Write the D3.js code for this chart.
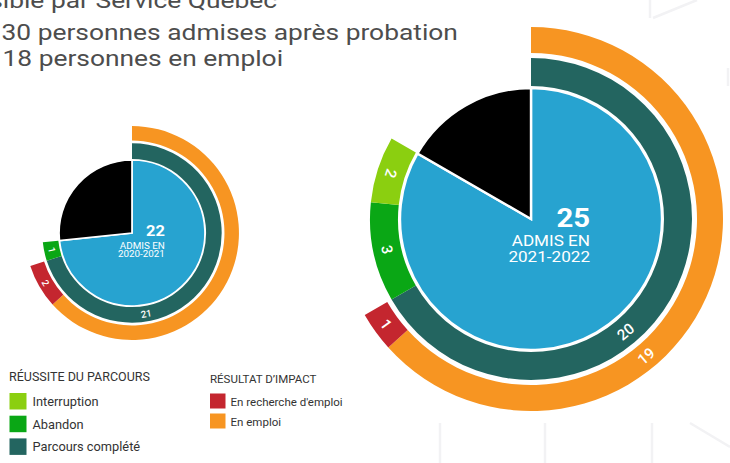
<!DOCTYPE html>
<html><head><meta charset="utf-8">
<script src="https://cdn.jsdelivr.net/npm/d3@7"></script>
<style>
html,body{margin:0;padding:0;background:#fff;overflow:hidden;}
svg{display:block;font-family:Roboto, "Noto Sans", sans-serif;}
</style></head>
<body>
<svg id="chart" width="730" height="463"></svg>
<script>
// ---- data ----
const years = ["2020-2021", "2021-2022"];
const admis = [22, 25];
const scaleMax = 30;
const parcoursComplete = [21, 20];
const abandon = [1, 3];
const interruption = [0, 2];
const enEmploi = [19, 19];
const enRecherche = [2, 1];
const headLines = ["admissible par Service Québec", "30 personnes admises après probation", "18 personnes en emploi"];
const legendReussite = ["Interruption", "Abandon", "Parcours complété"];
const legendImpact = ["En recherche d'emploi", "En emploi"];

const colors = {
  interruption: "#8BCF10", abandon: "#0AA715", complete: "#236560",
  recherche: "#C4262F", emploi: "#F79522", admis: "#27A3D0", rest: "#000000"
};

const svg = d3.select("#chart");
const SX = 1.172; // horizontal stretch of the headline / centre texts

// faint background decorations
const deco = svg.append("g").attr("stroke", "#f2f2f4").attr("stroke-width", 2.5).attr("fill", "none");
[[440,423,440,463],[545,423,545,463],[652,423,652,463],[690,423,730,447],
 [650,0,650,18],[653,18,697,0],[728,68,728,86]].forEach(l=>{
  deco.append("line").attr("x1",l[0]).attr("y1",l[1]).attr("x2",l[2]).attr("y2",l[3]);
});

// header text
const head = svg.append("g").attr("fill", "#4d4d4d").attr("font-size", 22.5);
function headText(x, y, anchor, t) {
  head.append("text").attr("transform", `translate(${x},${y}) scale(${SX},1)`)
    .attr("text-anchor", anchor).text(t);
}
headText(277, 7.5, "end", headLines[0]);
headText(1.5, 39.5, "start", headLines[1]);
headText(2.5, 66, "start", headLines[2]);

const angle = d3.scaleLinear().domain([0, scaleMax]).range([0, 2 * Math.PI]);

const layouts = [
  {cx: 132, cy: 233, k: 0.557, tealLabel: 170, orangeLabel: null, labelFs: 9.5, centerFs: [14, 8.4]},
  {cx: 531, cy: 219, k: 1, tealLabel: 140, orangeLabel: 140, labelFs: 15, centerFs: [25, 14.6]}
];

years.forEach((yr, i) => {
  const L = layouts[i], k = L.k;
  const g = svg.append("g").attr("transform", `translate(${L.cx},${L.cy})`);
  const rPie = 131 * k;
  const tealIn = 133 * k, tealOut = 161 * k;
  const orIn = 166 * k, orOut = 192 * k;

  // pie
  const pieData = [
    {v0: 0, v1: admis[i], c: colors.admis},
    {v0: admis[i], v1: scaleMax, c: colors.rest}
  ];
  const pieArc = d3.arc().innerRadius(0).outerRadius(rPie)
    .startAngle(d => angle(d.v0)).endAngle(d => angle(d.v1));
  g.selectAll("path.pie").data(pieData).join("path").attr("class", "pie")
    .attr("d", pieArc).attr("fill", d => d.c)
    .attr("stroke", "#fff").attr("stroke-width", 2.4 * Math.max(k, 0.7)).attr("stroke-linejoin", "miter");

  // rings
  function ring(values, cols, rin, rout, labelAng) {
    let acc = 0;
    const segs = values.map((v, j) => { const s = {v0: acc, v1: acc + v, v, c: cols[j], j}; acc += v; return s; })
      .filter(s => s.v > 0);
    const arc = d3.arc().innerRadius(rin).outerRadius(rout)
      .startAngle(d => angle(d.v0)).endAngle(d => angle(d.v1));
    g.selectAll(null).data(segs).join("path").attr("d", arc).attr("fill", d => d.c);
    const rm = (rin + rout) / 2;
    segs.forEach(s => {
      let a;
      if (s.j === 0) { if (labelAng == null) return; a = labelAng; }
      else a = (angle(s.v0) + angle(s.v1)) / 2 * 180 / Math.PI;
      const rad = a * Math.PI / 180;
      const x = rm * Math.sin(rad), y = -rm * Math.cos(rad);
      g.append("text").attr("transform", `translate(${x},${y}) rotate(${a - 180})`)
        .attr("text-anchor", "middle").attr("dy", "0.36em")
        .attr("fill", "#fff").attr("font-size", L.labelFs).attr("font-weight", 500)
        .text(s.v);
    });
  }
  ring([parcoursComplete[i], abandon[i], interruption[i]],
       [colors.complete, colors.abandon, colors.interruption], tealIn, tealOut, L.tealLabel);
  ring([enEmploi[i], enRecherche[i]], [colors.emploi, colors.recherche], orIn, orOut, L.orangeLabel);

  // center text
  const tx = 59 * k;
  const ct = g.append("g").attr("fill", "#fff").attr("text-anchor", "end");
  const cText = (y, fs, fw, t) => ct.append("text")
    .attr("transform", `translate(${tx},${y}) scale(${SX},1)`)
    .attr("font-size", fs).attr("font-weight", fw).text(t);
  cText(8 * k + (k < 1 ? -1 : 0), L.centerFs[0], 700, admis[i]);
  cText(27.3 * k + (k < 1 ? 0.5 : 0), L.centerFs[1], 400, "ADMIS EN");
  cText(43 * k, L.centerFs[1], 400, yr);
});

// legends
const lg1 = svg.append("g");
lg1.append("text").attr("x", 9).attr("y", 381).attr("font-size", 12.5).attr("fill", "#333").text("RÉUSSITE DU PARCOURS");
const c1 = [colors.interruption, colors.abandon, colors.complete];
legendReussite.forEach((t, j) => {
  const y = 393 + j * 22.7;
  lg1.append("rect").attr("x", 9.5).attr("y", y).attr("width", 17).attr("height", 16.5).attr("fill", c1[j]);
  lg1.append("text").attr("x", 32.5).attr("y", y + 13).attr("font-size", 12.8).attr("fill", "#333").text(t);
});
const lg2 = svg.append("g");
lg2.append("text").attr("x", 210).attr("y", 382.5).attr("font-size", 11.5).attr("fill", "#333").text("RÉSULTAT D’IMPACT");
const c2 = [colors.recherche, colors.emploi];
legendImpact.forEach((t, j) => {
  const y = 393.5 + j * 20;
  lg2.append("rect").attr("x", 210).attr("y", y).attr("width", 15.5).attr("height", 15).attr("fill", c2[j]);
  lg2.append("text").attr("x", 230.5).attr("y", y + 12.3).attr("font-size", 11.5).attr("fill", "#333").text(t);
});
</script>
</body></html>
